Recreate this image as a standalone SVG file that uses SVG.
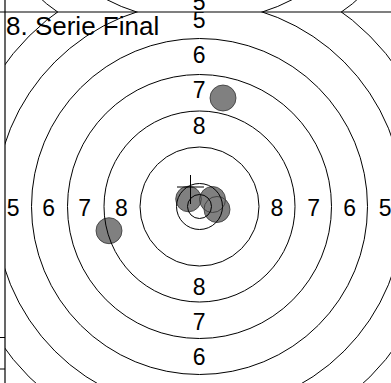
<svg xmlns="http://www.w3.org/2000/svg" width="391" height="383" viewBox="0 0 391 383">
<style>
.ring{fill:none;stroke:#000;stroke-width:1}
.lbl{font-family:"Liberation Sans",Arial,sans-serif;font-size:23px;fill:#000;text-anchor:middle}
.title{font-family:"Liberation Sans",Arial,sans-serif;font-size:26px;fill:#000}
.shotfill{fill:#808080;stroke:none}
.shotline{fill:none;stroke:#333;stroke-width:0.8}
.frame{stroke:#000;stroke-width:1.2;fill:none}
.cross{stroke:#000;stroke-width:1}
</style>
<defs>
<clipPath id="cur"><rect x="5" y="12" width="386" height="371"/></clipPath>
<clipPath id="prev"><rect x="5" y="0" width="386" height="12"/></clipPath>
<circle id="s1" cx="223" cy="98" r="13"/>
<circle id="s2" cx="109" cy="230.7" r="13"/>
<circle id="s3" cx="188.5" cy="199" r="12.8"/>
<circle id="s4" cx="212.5" cy="199.5" r="13"/>
<circle id="s5" cx="217" cy="209.5" r="13"/>
</defs>
<rect width="391" height="383" fill="#fff"/>
<g id="previous-panel" clip-path="url(#prev)">
<circle class="ring" cx="199.5" cy="-182.5" r="204.5"/>
<circle class="ring" cx="199.5" cy="-182.5" r="241"/>
<text class="lbl" x="199.25" y="9.5">5</text>
</g>
<g id="target" clip-path="url(#cur)">
<g id="shots">
<use href="#s1" class="shotfill"/><use href="#s2" class="shotfill"/><use href="#s3" class="shotfill"/><use href="#s4" class="shotfill"/><use href="#s5" class="shotfill"/>
<use href="#s1" class="shotline"/><use href="#s2" class="shotline"/><use href="#s3" class="shotline"/><use href="#s4" class="shotline"/><use href="#s5" class="shotline"/>
</g>
<g id="rings">
<circle class="ring" cx="199.5" cy="206.5" r="12"/>
<circle class="ring" cx="199.5" cy="206.5" r="23"/>
<circle class="ring" cx="199.5" cy="206.5" r="59.5"/>
<circle class="ring" cx="199.5" cy="206.5" r="95.5"/>
<circle class="ring" cx="199.5" cy="206.5" r="132"/>
<circle class="ring" cx="199.5" cy="206.5" r="168"/>
<circle class="ring" cx="199.5" cy="206.5" r="204.5"/>
<circle class="ring" cx="199.5" cy="206.5" r="241"/>
</g>
<g id="labels">
<text class="lbl" x="13.25" y="216">5</text>
<text class="lbl" x="48.75" y="216">6</text>
<text class="lbl" x="84.75" y="216">7</text>
<text class="lbl" x="121.5" y="216">8</text>
<text class="lbl" x="277" y="216">8</text>
<text class="lbl" x="313.75" y="216">7</text>
<text class="lbl" x="349.75" y="216">6</text>
<text class="lbl" x="385.25" y="216">5</text>
<text class="lbl" x="199.25" y="28">5</text>
<text class="lbl" x="199.25" y="63">6</text>
<text class="lbl" x="199.25" y="98">7</text>
<text class="lbl" x="199.25" y="133.5">8</text>
<text class="lbl" x="199.25" y="295">8</text>
<text class="lbl" x="199.25" y="330">7</text>
<text class="lbl" x="199.25" y="365">6</text>
</g>
<g id="aim-mark">
<line class="cross" x1="190.5" y1="175" x2="190.5" y2="204"/>
<line class="cross" x1="177" y1="187" x2="204" y2="187"/>
</g>
<text class="title" x="6" y="35">8. Serie Final</text>
</g>
<g id="frame">
<line class="frame" x1="0" y1="12" x2="391" y2="12"/>
<line class="frame" x1="5" y1="0" x2="5" y2="383"/>
<line class="frame" x1="0" y1="337.5" x2="5" y2="337.5" style="stroke-width:1"/>
<line class="frame" x1="0" y1="369" x2="5" y2="369" style="stroke-width:1"/>
</g>
</svg>
